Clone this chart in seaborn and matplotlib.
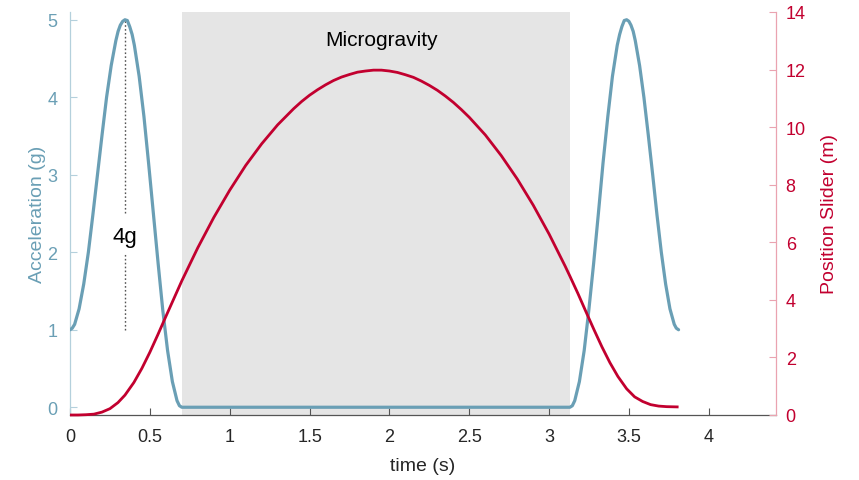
import matplotlib
matplotlib.use("Agg")
import matplotlib.pyplot as plt
import seaborn as sns

# acceleration of the slider (g)
accel_time = [0, 0.014, 0.029, 0.057, 0.086, 0.115, 0.143, 0.172, 0.201, 0.229, 0.258, 0.287, 0.301,
              0.315, 0.330, 0.344, 0.359, 0.374, 0.389, 0.403, 0.433, 0.463, 0.492, 0.522, 0.552,
              0.581, 0.611, 0.641, 0.670, 0.685, 0.700,
              3.130, 3.145, 3.160, 3.189, 3.219, 3.248, 3.278, 3.308, 3.337, 3.367, 3.396, 3.426,
              3.441, 3.455, 3.470, 3.485, 3.499, 3.512, 3.526, 3.539, 3.566, 3.593, 3.620, 3.648,
              3.675, 3.702, 3.729, 3.756, 3.783, 3.796, 3.810]
accel_g = [1.00, 1.02, 1.07, 1.27, 1.59, 2.00, 2.48, 3.00, 3.52, 4.00, 4.41, 4.73, 4.85,
           4.93, 4.98, 5.00, 4.99, 4.91, 4.81, 4.67, 4.27, 3.75, 3.15, 2.50, 1.85,
           1.25, 0.73, 0.33, 0.085, 0.02, 0.0,
           0.0, 0.02, 0.085, 0.33, 0.73, 1.25, 1.85, 2.50, 3.15, 3.75, 4.27, 4.67,
           4.81, 4.91, 4.99, 5.00, 4.98, 4.93, 4.85, 4.73, 4.41, 4.00, 3.52, 3.00,
           2.48, 2.00, 1.59, 1.27, 1.07, 1.02, 1.00]

# slider position (m)
pos_time = [0, 0.05, 0.1, 0.15, 0.2, 0.25, 0.3, 0.344, 0.4, 0.45, 0.5, 0.55, 0.6, 0.65, 0.7,
            0.8, 0.9, 1.0, 1.1, 1.2, 1.3, 1.4, 1.45, 1.5, 1.55, 1.6, 1.65, 1.7, 1.75, 1.8, 1.85,
            1.9, 1.95, 2.0, 2.05, 2.1, 2.15, 2.2, 2.25, 2.3, 2.35, 2.4, 2.45, 2.5, 2.6, 2.7, 2.8,
            2.9, 3.0, 3.1, 3.13, 3.18, 3.23, 3.28, 3.33, 3.38, 3.43, 3.485, 3.535, 3.585, 3.635,
            3.685, 3.735, 3.81]
pos_m = [0, 0.0, 0.01, 0.03, 0.10, 0.22, 0.43, 0.69, 1.13, 1.62, 2.18, 2.79, 3.42, 4.04, 4.66,
         5.81, 6.86, 7.81, 8.67, 9.42, 10.08, 10.64, 10.89, 11.11, 11.30, 11.47, 11.62, 11.74, 11.83,
         11.91, 11.95, 11.98, 11.98, 11.95, 11.90, 11.82, 11.73, 11.60, 11.45, 11.28, 11.08, 10.86,
         10.61, 10.34, 9.73, 9.01, 8.20, 7.29, 6.28, 5.17, 4.82, 4.22, 3.59, 2.97, 2.37, 1.82, 1.34,
         0.91, 0.63, 0.47, 0.36, 0.31, 0.29, 0.28]

micro_window = [0.7, 3.13]
peak_time = 0.344
peak_marker_lo = [1.0, 1.98]
peak_marker_hi = [2.5, 5.0]

x_ticks = [0, 0.5, 1, 1.5, 2, 2.5, 3, 3.5, 4]
x_tick_labels = ["0", "0.5", "1", "1.5", "2", "2.5", "3", "3.5", "4"]
acc_ticks = [0, 1, 2, 3, 4, 5]
pos_ticks = [0, 2, 4, 6, 8, 10, 12, 14]

blue = "#6a9fb5"
blue_light = "#b4d0dc"
red = "#c2002f"
red_light = "#eaa3b0"
dark = "#262626"

sns.set_theme(style="white")
plt.rcParams['font.family'] = ['Liberation Sans', 'DejaVu Sans']

fig = plt.figure(figsize=(8.59, 4.81), dpi=100)
ax = fig.add_axes([70 / 859, 1 - 416 / 481, 706 / 859, 403 / 481])
ax2 = ax.twinx()

# grey microgravity band
ax.axvspan(micro_window[0], micro_window[1], color="#e5e5e5", lw=0, zorder=0)

sns.lineplot(x=accel_time, y=accel_g, ax=ax, color=blue, linewidth=2.3,
             estimator=None, sort=False, zorder=3,
             solid_joinstyle="round", solid_capstyle="round")
sns.lineplot(x=pos_time, y=pos_m, ax=ax2, color=red, linewidth=2.0,
             estimator=None, sort=False, clip_on=False,
             solid_joinstyle="round", solid_capstyle="butt")

# dotted 4g marker
ax.plot([peak_time, peak_time], peak_marker_lo, ls=(0, (1.2, 1.6)), color="#555555", lw=1.0)
ax.plot([peak_time, peak_time], peak_marker_hi, ls=(0, (1.2, 1.6)), color="#555555", lw=1.0)
ax.text(peak_time, 2.2, "4g", ha="center", va="center", fontsize=16, color="black")
ax.text(1.95, 4.74, "Microgravity", ha="center", va="center", fontsize=15, color="black")

ax.set_xlim(0, 4.42)
ax.set_ylim(-0.1, 5.1)
ax2.set_ylim(0, 14)

ax.set_xticks(x_ticks)
ax.set_xticklabels(x_tick_labels)
ax.set_yticks(acc_ticks)
ax2.set_yticks(pos_ticks)

ax.set_xlabel("time (s)", fontsize=14, color=dark, labelpad=9)
ax.set_ylabel("Acceleration (g)", fontsize=14, color=blue, labelpad=1)
ax2.set_ylabel("Position Slider (m)", fontsize=14, color=red, labelpad=11)

ax.tick_params(axis="x", direction="in", length=5, width=0.8, color="#555555",
               labelcolor=dark, labelsize=13, pad=9, bottom=True)
ax.tick_params(axis="y", direction="in", length=5, width=0.8, color=blue_light,
               labelcolor=blue, labelsize=13, pad=9, left=True)
ax2.tick_params(axis="y", direction="in", length=5, width=0.8, color=red_light,
                labelcolor=red, labelsize=13, pad=7, right=True)

for a in (ax, ax2):
    a.spines["top"].set_visible(False)
    a.grid(False)
ax.spines["right"].set_visible(False)
ax2.spines["left"].set_visible(False)
ax2.spines["bottom"].set_visible(False)
ax.spines["left"].set_color(blue_light)
ax2.spines["right"].set_color(red_light)
ax.spines["bottom"].set_color("#555555")
for s in (ax.spines["left"], ax.spines["bottom"], ax2.spines["right"]):
    s.set_linewidth(0.9)

fig.savefig("out.png", dpi=100)
